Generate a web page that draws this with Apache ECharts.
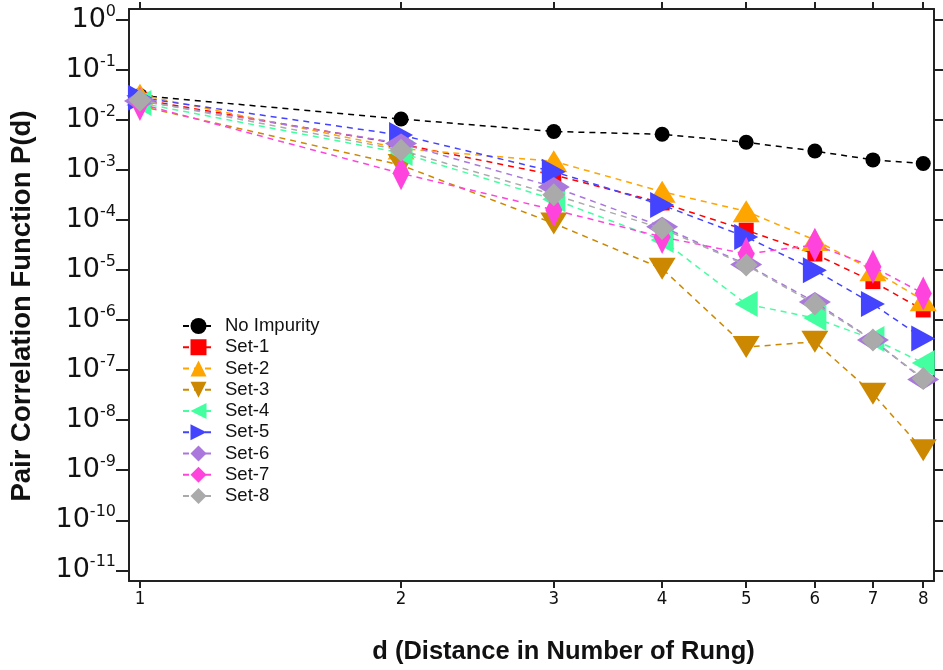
<!DOCTYPE html>
<html>
<head>
<meta charset="utf-8">
<script src="https://cdn.jsdelivr.net/npm/echarts@6/dist/echarts.min.js"></script>
<style>
html,body{margin:0;padding:0;background:#fff;}
#chart{width:943px;height:670px;}
</style>
</head>
<body>
<div id="chart"></div>
<script>
// ---- data ----
const distances = [1, 2, 3, 4, 5, 6, 7, 8];
const noImpurity = [0.031, 0.0105, 0.0059, 0.0052, 0.0036, 0.0024, 0.0016, 0.00135];
const set1 = [0.026, 0.0033, 0.0008, 0.00022, 6.3e-5, 2.1e-5, 5.9e-6, 1.6e-6];
const set2 = [0.032, 0.0027, 0.0015, 3.7e-4, 1.5e-4, 4.0e-5, 1.0e-5, 2.5e-6];
const set3 = [0.019, 0.00126, 8.6e-5, 1.07e-5, 2.9e-7, 3.7e-7, 3.4e-8, 2.5e-9];
const set4 = [0.022, 0.0022, 2.6e-4, 4.0e-5, 2.1e-6, 1.1e-6, 4.2e-7, 1.4e-7];
const set5 = [0.028, 0.005, 9.3e-4, 2.0e-4, 4.6e-5, 1.0e-5, 2.1e-6, 4.3e-7];
const set6 = [0.024, 0.0034, 4.6e-4, 7.4e-5, 1.3e-5, 2.3e-6, 4.0e-7, 6.5e-8];
const set7 = [0.021, 8.6e-4, 1.6e-4, 4.6e-5, 2.1e-5, 3.2e-5, 1.17e-5, 3.4e-6];
const set8 = [0.025, 0.0025, 3.2e-4, 6.8e-5, 1.26e-5, 2.1e-6, 4.0e-7, 6.8e-8];
const seriesNames = ['No Impurity', 'Set-1', 'Set-2', 'Set-3', 'Set-4', 'Set-5', 'Set-6', 'Set-7', 'Set-8'];
const xTickValues = [1, 2, 3, 4, 5, 6, 7, 8];
const yTickExponents = [0, -1, -2, -3, -4, -5, -6, -7, -8, -9, -10, -11];
const xRange = [0.9713, 8.232];
const yRange = [6.11e-12, 1.66];

// ---- styles ----
const styles = [
  {color: '#000000', symbol: 'circle', size: 15, rotate: 0},
  {color: '#FF0000', symbol: 'rect', size: 15, rotate: 0},
  {color: '#FFA500', symbol: 'triangle', size: [27, 22], rotate: 0},
  {color: '#CC8800', symbol: 'triangle', size: [27, 22], rotate: 180},
  {color: '#44FFA0', symbol: 'triangle', size: [26, 23], rotate: 90},
  {color: '#4444FF', symbol: 'triangle', size: [26, 24], rotate: -90},
  {color: '#AA77DD', symbol: 'diamond', size: [32, 20], rotate: 0},
  {color: '#FF44DD', symbol: 'diamond', size: [17, 34], rotate: 0},
  {color: '#AAAAAA', symbol: 'diamond', size: [23, 23], rotate: 0}
];
const allValues = [noImpurity, set1, set2, set3, set4, set5, set6, set7, set8];
const lg = Math.log10;

const series = allValues.map((vals, i) => ({
  name: seriesNames[i],
  type: 'line',
  data: distances.map((d, k) => [lg(d), lg(vals[k])]),
  symbol: styles[i].symbol,
  symbolSize: styles[i].size,
  symbolRotate: styles[i].rotate,
  itemStyle: {color: styles[i].color},
  lineStyle: {color: styles[i].color, width: 1.5, type: [6, 5]},
  emphasis: {disabled: true},
  z: 2 + i
}));

const axisCol = '#222';
const chart = echarts.init(document.getElementById('chart'), null, {renderer: 'canvas'});
chart.setOption({
  backgroundColor: '#ffffff',
  animation: false,
  grid: {left: 128, right: 9, top: 9, bottom: 89, containLabel: false},
  legend: {
    orient: 'vertical',
    left: 182,
    top: 316,
    itemWidth: 31,
    itemHeight: 20,
    itemGap: 1.25,
    padding: 0,
    data: seriesNames,
    textStyle: {fontFamily: 'Liberation Sans', fontSize: 18.5, lineHeight: 20, color: '#111', padding: [0, 0, 0, 6]}
  },
  xAxis: [{
    type: 'value',
    min: lg(xRange[0]), max: lg(xRange[1]),
    position: 'bottom',
    splitLine: {show: false},
    axisLine: {show: true, onZero: false, lineStyle: {color: axisCol, width: 2}},
    axisTick: {show: true, inside: false, length: 7, lineStyle: {color: axisCol, width: 2},
      customValues: xTickValues.map(lg)},
    axisLabel: {customValues: xTickValues.map(lg), margin: 9,
      formatter: v => String(Math.round(Math.pow(10, v))),
      fontFamily: "'DejaVu Sans Condensed', 'Liberation Sans'", fontSize: 18.5, color: '#111'},
    name: 'd (Distance in Number of Rung)',
    nameLocation: 'middle',
    nameGap: 58,
    nameTextStyle: {fontFamily: 'Liberation Sans', fontWeight: 'bold', fontSize: 25.5, color: '#111',
      padding: [0, 0, 0, 64]}
  }, {
    type: 'value',
    min: lg(xRange[0]), max: lg(xRange[1]),
    position: 'top',
    splitLine: {show: false},
    axisLine: {show: true, onZero: false, lineStyle: {color: axisCol, width: 2}},
    axisTick: {show: true, inside: false, length: 7, lineStyle: {color: axisCol, width: 2},
      customValues: xTickValues.map(lg)},
    axisLabel: {show: false}
  }],
  yAxis: [{
    type: 'value',
    min: lg(yRange[0]), max: lg(yRange[1]),
    position: 'left',
    splitLine: {show: false},
    axisLine: {show: true, onZero: false, lineStyle: {color: axisCol, width: 2}},
    axisTick: {show: true, inside: false, length: 13, lineStyle: {color: axisCol, width: 2},
      customValues: yTickExponents},
    axisLabel: {customValues: yTickExponents, margin: 13,
      formatter: v => '{b|10}{s|' + Math.round(v) + '}',
      rich: {
        b: {fontFamily: 'DejaVu Sans', fontSize: 27, color: '#111', lineHeight: 32},
        s: {fontFamily: 'DejaVu Sans', fontSize: 16, color: '#111', verticalAlign: 'top', lineHeight: 17}
      }},
    name: 'Pair Correlation Function P(d)',
    nameLocation: 'middle',
    nameGap: 93,
    nameTextStyle: {fontFamily: 'Liberation Sans', fontWeight: 'bold', fontSize: 27.5, color: '#111',
      padding: [0, 22, 0, 0]}
  }, {
    type: 'value',
    min: lg(yRange[0]), max: lg(yRange[1]),
    position: 'right',
    splitLine: {show: false},
    axisLine: {show: true, onZero: false, lineStyle: {color: axisCol, width: 2}},
    axisTick: {show: true, inside: false, length: 13, lineStyle: {color: axisCol, width: 2},
      customValues: yTickExponents},
    axisLabel: {show: false}
  }],
  series: series
});
</script>
</body>
</html>
